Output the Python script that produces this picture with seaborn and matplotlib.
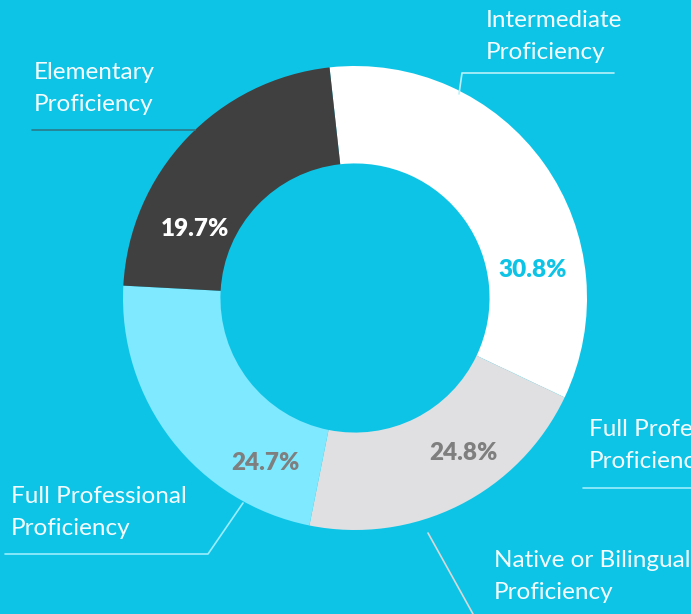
import matplotlib
matplotlib.use("Agg")
import matplotlib.pyplot as plt
import seaborn as sns

# datos del grafico
categorias = ['Intermediate\nProficiency', 'Native or Bilingual\nProficiency',
              'Full Professional\nProficiency', 'Elementary\nProficiency']
etiquetas_pct = ['30.8%', '24.8%', '24.7%', '19.7%']
# tamano de cada arco tal como se ve en la imagen (no coincide del todo con el rotulo)
tamanos = [33.8, 21.1, 22.7, 22.4]

colores = ['#FFFFFF', '#E0E0E2', '#7FE9FF', '#404040']
colores_pct = ['#0EC4E6', '#7F7F7F', '#7F7F7F', '#FFFFFF']
fondo = '#0EC4E6'

W, H = 691, 614
CX, CY, R = 355, 298, 232  # centro y radio en pixeles


def px(x, y):
    # pixeles de la imagen -> coordenadas del eje (radio 1)
    return (x - CX) / R, (CY - y) / R


sns.set_theme(style="white")
plt.rcParams['font.family'] = ['Lato', 'DejaVu Sans']

fig = plt.figure(figsize=(W / 100, H / 100), dpi=100, facecolor=fondo)
ax = fig.add_axes([0, 0, 1, 1])
ax.set_facecolor(fondo)

wedges, _ = ax.pie(tamanos, colors=colores, startangle=96.3, counterclock=False,
                   radius=1, wedgeprops=dict(width=0.42, linewidth=0))

# porcentajes dentro del anillo (ubicados a mano como en el original)
pos_pct = [(533, 270), (463, 453), (265, 463), (195, 229)]
for (x, y), txt, c in zip(pos_pct, etiquetas_pct, colores_pct):
    ax.text(*px(x, y), txt, color=c, fontsize=17.5, fontweight='heavy',
            ha='center', va='center')

# etiquetas exteriores
pos_etiquetas = [(486, 10), (494, 550), (11, 486), (34, 62)]
for (x, y), txt in zip(pos_etiquetas, categorias):
    ax.text(*px(x, y), txt, color='#F4FCFE', fontsize=17.5, fontweight='normal',
            ha='left', va='top', linespacing=1.65)
# etiqueta sobrante a la derecha (cortada en el original)
ax.text(*px(589, 419), 'Full Professional\nProficiency', color='#F4FCFE', fontsize=17.5,
        fontweight='normal', ha='left', va='top', linespacing=1.65)

# lineas guia
guias = [
    ([614, 462, 459], [73, 73, 94], '#B8F1FB'),
    ([473, 428], [614, 533], '#D9D9D9'),
    ([5, 208, 243], [554, 554, 503], '#9BEEFD'),
    ([32, 195], [130, 130], '#2C7A8A'),
    ([583, 691], [488, 488], '#9BEEFD'),
]
for xs, ys, c in guias:
    pts = [px(x, y) for x, y in zip(xs, ys)]
    ax.plot([p[0] for p in pts], [p[1] for p in pts], color=c, linewidth=1.2)

ax.set_xlim(-CX / R, (W - CX) / R)
ax.set_ylim(-(H - CY) / R, CY / R)
ax.set_aspect('equal')
ax.axis('off')

fig.savefig('out.png', dpi=100, facecolor=fondo)
